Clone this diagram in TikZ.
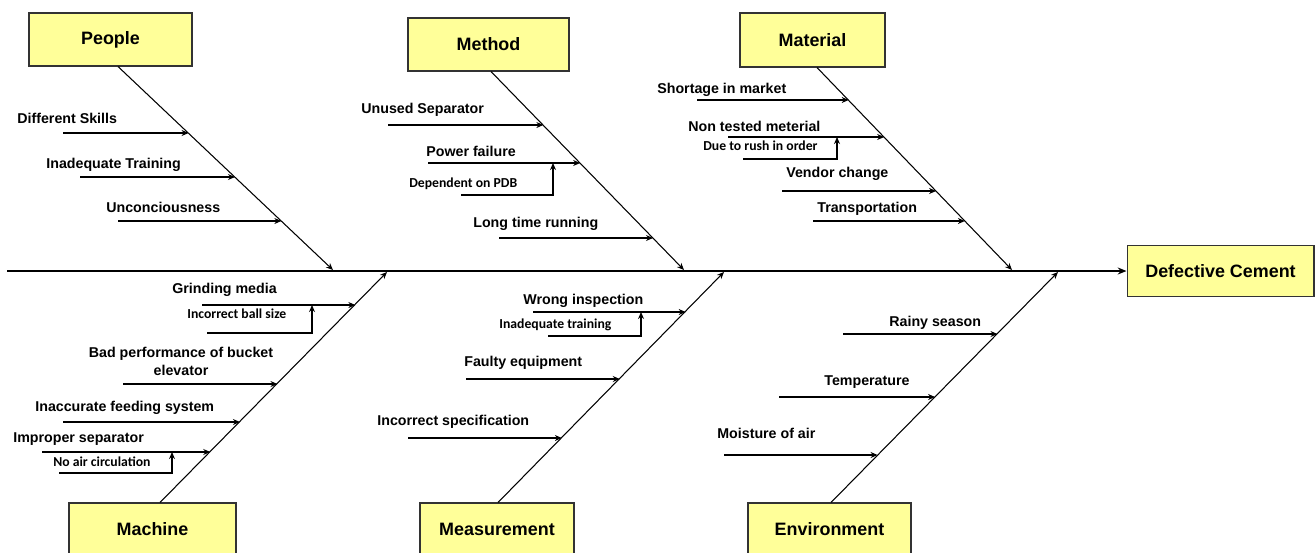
\documentclass[tikz,border=0pt]{standalone}
\usepackage{fontspec}
\setmainfont{Liberation Sans}
\newfontfamily\subcausefont{Carlito}
\usetikzlibrary{arrows.meta}
\definecolor{box-fill}{HTML}{FFFF99}
\definecolor{box-line}{HTML}{333333}

\tikzset{
  catbox/.style={draw=box-line, fill=box-fill, line width=0.6pt, inner sep=0pt,
                 font=\fontsize{10.2}{12}\selectfont\bfseries},
  spine/.style={line width=1.2pt, -{Stealth[length=5pt,width=4pt]}},
  bone/.style={line width=0.6pt, -{Stealth[length=4pt,width=3.4pt]}},
  twig/.style={line width=0.6pt, -{Stealth[length=4pt,width=3.4pt]}},
  cause/.style={anchor=base west, inner sep=0pt,
                font=\fontsize{8.1}{10.2}\selectfont\bfseries},
  subcause/.style={anchor=base west, inner sep=0pt,
                   font=\subcausefont\fontsize{7.8}{9}\selectfont\bfseries},
}

\begin{document}
\begin{tikzpicture}[x=0.02cm, y=-0.02cm]
    % Fishbone: 1 unit = 0.02cm, y counted downwards from the top edge.
    %   spine at y=271, from x=7 to the effect box
    %   three category boxes above it, three below (cut off at y=552)
    \useasboundingbox (0,0) rectangle (1316,552);
    \clip (0,0) rectangle (1316,552);

    % category boxes and the effect
    \node[catbox, minimum width=3.26cm, minimum height=1.06cm] (people) at (110.5,39.5) {People};
    \node[catbox, minimum width=3.22cm, minimum height=1.06cm] (method) at (488.5,44.5) {Method};
    \node[catbox, minimum width=2.90cm, minimum height=1.08cm] (material) at (812.5,40) {Material};
    \node[catbox, minimum width=3.34cm, minimum height=1.06cm] (machine) at (152.5,529.5) {Machine};
    \node[catbox, minimum width=3.08cm, minimum height=1.06cm] (measurement) at (497,529.5) {Measurement};
    \node[catbox, minimum width=3.26cm, minimum height=1.06cm] (environment) at (829.5,529.5) {Environment};
    \node[catbox, minimum width=3.74cm, minimum height=1.02cm] (effect) at (1220.5,271) {Defective Cement};

    % spine
    \coordinate (tail) at (7,271);
    \draw[spine] (tail) -- (effect.west);

    % bones, each ending on the spine
    \coordinate (people-end) at (333,270);
    \coordinate (method-end) at (684,270);
    \coordinate (material-end) at (1012,270);
    \coordinate (machine-end) at (387,272);
    \coordinate (measurement-end) at (724,272);
    \coordinate (environment-end) at (1058,272);
    \draw[bone] ([xshift=0.15cm]people.south) -- (people-end);
    \draw[bone] ([xshift=0.05cm]method.south) -- (method-end);
    \draw[bone] ([xshift=0.09cm]material.south) -- (material-end);
    \draw[bone] ([xshift=0.15cm]machine.north) -- (machine-end);
    \draw[bone] ([xshift=0.02cm]measurement.north) -- (measurement-end);
    \draw[bone] ([xshift=0.03cm]environment.north) -- (environment-end);

    % causes: text / x / baseline / arrow y / arrow start x / arrow end x (on the bone)
    \foreach \txt/\tx/\ty/\ya/\xa/\xb [count=\i] in {
        Different Skills/17/123/133/63/188.6,
        Inadequate Training/46/168/177/80/235,
        Unconciousness/106/212/221/118/281.4,
        Unused Separator/361/113/125/388/543.4,
        Power failure/426/156/163/428/580.2,
        Long time running/473/227/238/499/653,
        Shortage in market/657/93/100/697/848.7,
        Non tested meterial/688/131/137/728/884.2,
        Vendor change/786/177/191/782/936.1,
        Transportation/817/212/221/813/964.9,
        Grinding media/172/293/305/202/355.4,
        Inaccurate feeding system/35/411/422/63/240,
        Improper separator/13/442/452/42/210.3,
        Wrong inspection/523/304/312/533/685.7,
        Faulty equipment/464/366/379/466/619.8,
        Incorrect specification/377/425/438/408/561.9,
        Rainy season/889/326/334/843/997.5,
        Temperature/824/385/397/779/935.1,
        Moisture of air/717/438/455/724/877.6}{
      \node[cause] (cause\i) at (\tx,\ty) {\txt};
      \coordinate (cause\i-from) at (\xa,\ya);
      \coordinate (cause\i-to) at (\xb,\ya);
      \draw[twig] (cause\i-from) -- (cause\i-to);
    }

    % the one cause set on two lines
    \node[cause, anchor=center, align=center] (bucket) at (181,361)
        {Bad performance of bucket\\elevator};
    \coordinate (bucket-from) at (123,384);
    \coordinate (bucket-to) at (277.5,384);
    \draw[twig] (bucket-from) -- (bucket-to);

    % sub-causes, feeding up into their cause arrow
    \foreach \txt/\tx/\ty/\ly/\xa/\xb/\yb [count=\i] in {
        Dependent on PDB/409/187/195/461/553/163,
        Due to rush in order/703/150/159/743/837/137,
        Incorrect ball size/187/318/333/207/312/305,
        No air circulation/53/466/473/59/172/452,
        Inadequate training/499/328/336/548/641/312}{
      \node[subcause] (sub\i) at (\tx,\ty) {\txt};
      \coordinate (sub\i-from) at (\xa,\ly);
      \coordinate (sub\i-to) at (\xb,\yb);
      \draw[twig] (sub\i-from) -| (sub\i-to);
    }
\end{tikzpicture}
\end{document}
